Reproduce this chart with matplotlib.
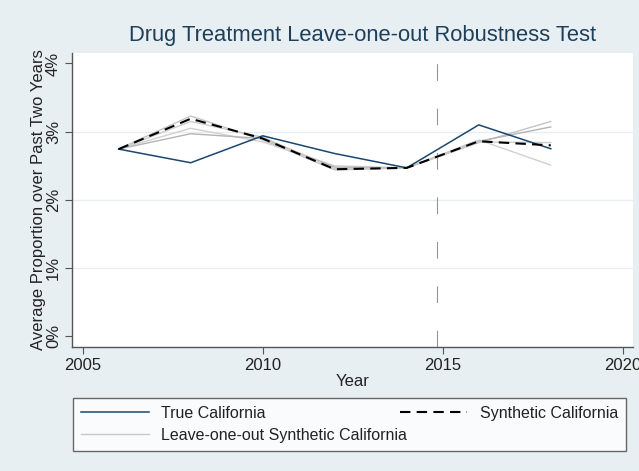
import numpy as np
import matplotlib.pyplot as plt
from matplotlib.ticker import FuncFormatter

plt.rcParams['font.family'] = ['Liberation Sans', 'DejaVu Sans']

# data: average proportion (%) over past two years
years = [2006, 2008, 2010, 2012, 2014, 2016, 2018]
true_ca = [2.745, 2.545, 2.94, 2.68, 2.47, 3.10, 2.75]
synth_ca = [2.745, 3.19, 2.90, 2.45, 2.47, 2.86, 2.80]
loo_1 = [2.745, 3.23, 2.88, 2.44, 2.47, 2.84, 3.15]
loo_2 = [2.745, 3.05, 2.85, 2.50, 2.47, 2.88, 2.51]
loo_3 = [2.745, 2.97, 2.90, 2.48, 2.47, 2.86, 3.07]
loo_4 = [2.745, 3.15, 2.92, 2.46, 2.47, 2.85, 2.84]
loo_all = [loo_1, loo_2, loo_3, loo_4]
loo_colors = ['#c4c4c4', '#d0d0d0', '#b4b4b4', '#cccccc']
treat_year = 2014.85

bg = '#e8eff2'
navy = '#1a476f'

fig = plt.figure(figsize=(6.39, 4.71), dpi=100, facecolor=bg)
ax = fig.add_axes([0.113, 0.264, 0.878, 0.623])
ax.set_facecolor('white')

for vals, c in zip(loo_all, loo_colors):
    ax.plot(years, vals, color=c, lw=1.0, zorder=2)
l_loo, = ax.plot([], [], color='#c8c8c8', lw=1.0)
l_true, = ax.plot(years, true_ca, color=navy, lw=1.1, zorder=3)
l_syn, = ax.plot(years, synth_ca, color='black', lw=1.5, dashes=(5, 3), zorder=4)

# treatment year marker
ax.axvline(treat_year, color='#959595', lw=0.8, dashes=(15, 25), zorder=1)

ax.set_xlim(2004.71, 2020.29)
ax.set_ylim(-0.15, 4.15)
ax.set_xticks([2005, 2010, 2015, 2020])
ax.set_yticks([0, 1, 2, 3, 4])
ax.yaxis.set_major_formatter(FuncFormatter(lambda v, p: '%d%%' % v))
for g in [1, 2, 3]:
    ax.axhline(g, color='#e6eef1', lw=1.0, zorder=0)

for s in ['top', 'right']:
    ax.spines[s].set_visible(False)
for s in ['left', 'bottom']:
    ax.spines[s].set_color('#555555')
    ax.spines[s].set_linewidth(1.0)
ax.tick_params(colors='#555555', labelcolor='#222222', labelsize=12, length=5, pad=3)
plt.setp(ax.get_yticklabels(), rotation=90, va='center')

ax.set_xlabel('Year', fontsize=12, color='#222222', labelpad=1)
ax.set_ylabel('Average Proportion over Past Two Years', fontsize=12, color='#222222', labelpad=0)

fig.text(0.567, 0.924, 'Drug Treatment Leave-one-out Robustness Test',
         ha='center', va='center', fontsize=15.8, color='#1e3f5a')

leg = fig.legend([l_true, l_loo, l_syn],
                 ['True California', 'Leave-one-out Synthetic California', 'Synthetic California'],
                 ncol=2, loc='lower left', bbox_to_anchor=(0.115, 0.0425, 0.865, 0.11),
                 mode='expand', fancybox=False, frameon=True, fontsize=11.5,
                 handlelength=4.2, borderaxespad=0, labelspacing=0.44, borderpad=0.5)
leg.get_frame().set_edgecolor('#444444')
leg.get_frame().set_linewidth(1.0)
for t in leg.get_texts():
    t.set_color('#222222')

fig.savefig('out.png', dpi=100, facecolor=bg)
